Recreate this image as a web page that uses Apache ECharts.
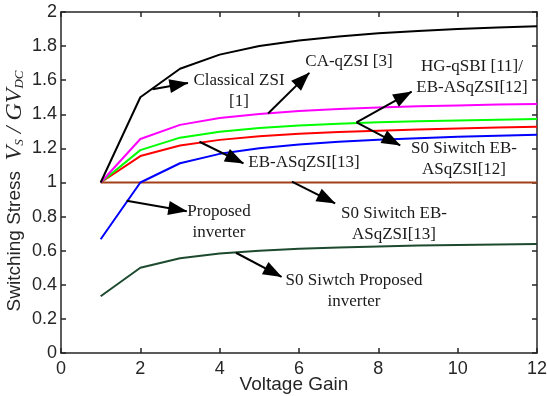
<!DOCTYPE html>
<html><head><meta charset="utf-8">
<script src="https://cdn.jsdelivr.net/npm/echarts@6/dist/echarts.min.js"></script>
<style>html,body{margin:0;padding:0;background:#fff}#c{width:547px;height:396px}</style>
</head><body><div id="c"></div><script>
// ---- data ----
const gains = [1,2,3,4,5,6,7,8,9,10,11,12];
const classicalZSI   = [1,1.5,1.667,1.75,1.8,1.833,1.857,1.875,1.889,1.9,1.909,1.917];
const caQZSI         = [1,1.255,1.338,1.378,1.402,1.419,1.431,1.44,1.447,1.452,1.457,1.461];
const hgQSBI         = [1,1.19,1.263,1.298,1.32,1.335,1.345,1.353,1.359,1.364,1.368,1.372];
const ebASqZSI13     = [1,1.155,1.217,1.25,1.271,1.286,1.296,1.304,1.311,1.317,1.322,1.327];
const proposed       = [0.667,1,1.113,1.168,1.201,1.223,1.239,1.251,1.26,1.268,1.274,1.28];
const s0EBASqZSI13   = [1,1,1,1,1,1,1,1,1,1,1,1];
const s0Proposed     = [0.333,0.5,0.556,0.583,0.6,0.611,0.619,0.625,0.63,0.633,0.636,0.639];
const xTicks = [0,2,4,6,8,10,12];
const yTicks = [0,0.2,0.4,0.6,0.8,1,1.2,1.4,1.6,1.8,2];

// annotation arrows (data coordinates: [from, to])
const arrows = [
  [[2.31,1.547],[3.2,1.584]],
  [[5.22,1.405],[6.26,1.643]],
  [[7.45,1.353],[8.84,1.533]],
  [[7.45,1.353],[8.55,1.218]],
  [[3.49,1.239],[4.6,1.112]],
  [[5.82,1.005],[6.91,0.878]],
  [[1.655,0.893],[3.17,0.832]],
  [[4.41,0.588],[5.56,0.447]]
];
const notes = [
  {t:'Classical ZSI\n[1]', x:239, y:91},
  {t:'CA-qZSI [3]', x:349, y:62},
  {t:'HG-qSBI [11]/\nEB-ASqZSI[12]', x:472, y:77},
  {t:'S0 Siwitch EB-\nASqZSI[12]', x:464, y:159},
  {t:'EB-ASqZSI[13]', x:304, y:163},
  {t:'Proposed\ninverter', x:219, y:222},
  {t:'S0 Siwitch EB-\nASqZSI[13]', x:394, y:224},
  {t:'S0 Siwtch Proposed\ninverter', x:354, y:291}
];

const seriesDefs = [
  {name:'S0 Siwtch Proposed inverter', d:s0Proposed, c:'#1d4a2e'},
  {name:'S0 Siwitch EB-ASqZSI[13]', d:s0EBASqZSI13, c:'#a3401a'},
  {name:'Proposed inverter', d:proposed, c:'#0000ff'},
  {name:'EB-ASqZSI[13]', d:ebASqZSI13, c:'#ff0000'},
  {name:'HG-qSBI [11]/EB-ASqZSI[12]', d:hgQSBI, c:'#00ff00'},
  {name:'CA-qZSI [3]', d:caQZSI, c:'#ff00ff'},
  {name:'Classical ZSI [1]', d:classicalZSI, c:'#000000'}
];

const axisCol = '#262626';
const chart = echarts.init(document.getElementById('c'));
const series = seriesDefs.map(s => ({
  name: s.name, type:'line', showSymbol:false, silent:true,
  data: gains.map((g,i)=>[g, s.d[i]]),
  lineStyle:{color:s.c, width:2}, itemStyle:{color:s.c}
}));
series.push({
  type:'line', data:[], silent:true, z:5,
  markLine:{
    silent:true, symbol:['none','triangle'], symbolSize:[14,19],
    symbolOffset:[[0,0],[0,9]],
    label:{show:false}, emphasis:{disabled:true},
    lineStyle:{color:'#000', width:2, type:'solid'},
    data: arrows.map(a => [{coord:a[0]},{coord:a[1]}])
  }
});
// empty series so that the mirrored top/right axes are drawn
series.push({type:'line', data:[], xAxisIndex:1, yAxisIndex:1, silent:true});

const mirror = {
  type:'value', axisLabel:{show:false}, splitLine:{show:false},
  axisLine:{show:true, onZero:false, lineStyle:{color:axisCol, width:1.5}},
  axisTick:{show:true, inside:true, length:5, lineStyle:{color:axisCol, width:1.5}}
};

chart.setOption({
  animation:false,
  backgroundColor:'#fff',
  grid:{left:61, right:10, top:12, bottom:43, outerBoundsMode:'none', containLabel:false},
  xAxis:[{
    type:'value', min:xTicks[0], max:xTicks[xTicks.length-1], interval:2,
    axisLine:{onZero:false, lineStyle:{color:axisCol, width:1.5}},
    axisTick:{inside:true, length:5, lineStyle:{color:axisCol, width:1.5}},
    axisLabel:{fontFamily:'Liberation Sans', fontSize:18, color:axisCol, margin:7},
    splitLine:{show:false},
    name:'Voltage Gain', nameLocation:'middle', nameGap:22, nameMoveOverlap:false,
    nameTextStyle:{fontFamily:'Liberation Sans', fontSize:19, color:axisCol, verticalAlign:'top', padding:[0,10,0,0]}
  }, Object.assign({position:'top', min:0, max:12, interval:2}, mirror)],
  yAxis:[{
    type:'value', min:yTicks[0], max:yTicks[yTicks.length-1], interval:0.2,
    axisLine:{show:true, onZero:false, lineStyle:{color:axisCol, width:1.5}},
    axisTick:{show:true, inside:true, length:5, lineStyle:{color:axisCol, width:1.5}},
    axisLabel:{fontFamily:'Liberation Sans', fontSize:18, color:axisCol, margin:4},
    splitLine:{show:false}
  }, Object.assign({position:'right', min:0, max:2, interval:0.2}, mirror)],
  series: series,
  graphic: notes.map(n => ({
    type:'text', x:n.x, y:n.y, z:100, silent:true,
    style:{text:n.t, align:'center', verticalAlign:'middle', lineHeight:21,
      font:'17px "Liberation Serif"', fill:'#1a1a1a'}
  })).concat([{
    type:'text', x:15, y:191, rotation:Math.PI/2, z:100, silent:true,
    style:{
      text:'{a|Switching Stress  }{v|V}{sub|S}{v| / GV}{sub|DC}',
      align:'center', verticalAlign:'middle',
      rich:{
        a:{fontFamily:'Liberation Sans', fontSize:19, fill:axisCol},
        v:{fontFamily:'Liberation Serif', fontStyle:'italic', fontSize:24, fill:axisCol},
        sub:{fontFamily:'Liberation Serif', fontStyle:'italic', fontSize:13, fill:axisCol, padding:[10,0,0,0]}
      }
    }
  }])
});
</script></body></html>
